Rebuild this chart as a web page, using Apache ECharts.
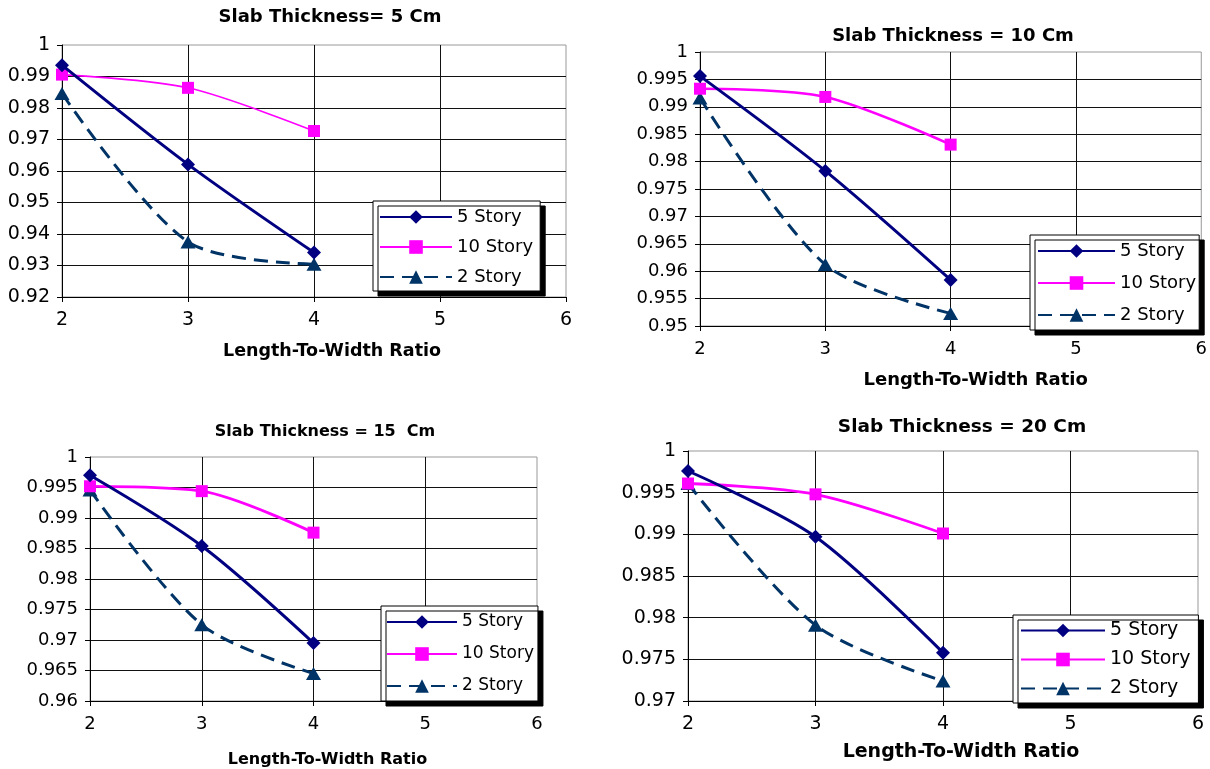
<!DOCTYPE html>
<html>
<head>
  <meta charset="utf-8">
  <title>Slab Thickness - Length-To-Width Ratio</title>
</head>
<body style="margin: 0; background: #fff">

  <div id="chart_div" style="width: 1210px; height: 769px;"></div>

  <script type="text/javascript" src="https://cdn.jsdelivr.net/npm/echarts@6/dist/echarts.min.js"></script>
  <script type="text/javascript">
    // x values and names
    var ratios = [2, 3, 4];
    var seriesNames = ['5 Story', '10 Story', '2 Story'];
    var titles = ['Slab Thickness= 5 Cm', 'Slab Thickness = 10 Cm', 'Slab Thickness = 15  Cm', 'Slab Thickness = 20 Cm'];
    var xName = 'Length-To-Width Ratio';

    // y axis ranges for each panel
    var yMin = [0.92, 0.95, 0.96, 0.97];
    var yStep = [0.01, 0.005, 0.005, 0.005];
    var xMin = 2, xMax = 6, xStep = 1;

    // slab 5 cm
    var slab5_story5 = [0.9936, 0.9621, 0.9341];
    var slab5_story10 = [0.9906, 0.9864, 0.9727];
    var slab5_story2 = [0.9846, 0.9375, 0.9304];
    // slab 10 cm
    var slab10_story5 = [0.9956, 0.9783, 0.9584];
    var slab10_story10 = [0.9933, 0.9918, 0.9831];
    var slab10_story2 = [0.9916, 0.9612, 0.9523];
    // slab 15 cm
    var slab15_story5 = [0.9970, 0.9854, 0.9695];
    var slab15_story10 = [0.9952, 0.9944, 0.9876];
    var slab15_story2 = [0.9946, 0.9725, 0.9645];
    // slab 20 cm
    var slab20_story5 = [0.9976, 0.9897, 0.9758];
    var slab20_story10 = [0.9961, 0.9948, 0.9901];
    var slab20_story2 = [0.9961, 0.9791, 0.9724];

    var panelData = [
      [slab5_story5, slab5_story10, slab5_story2],
      [slab10_story5, slab10_story10, slab10_story2],
      [slab15_story5, slab15_story10, slab15_story2],
      [slab20_story5, slab20_story10, slab20_story2]
    ];

    // layout (pixels)
    var grids = [
      {left: 62, top: 45, width: 504, height: 252},
      {left: 700, top: 52, width: 503, height: 274},
      {left: 90, top: 457, width: 447, height: 244},
      {left: 688, top: 451, width: 510, height: 250}
    ];
    var titlePos = [[330, 8], [953, 27], [325, 424], [962, 418]];
    var titleFont = [18, 18, 16, 18.5];
    var tickFont = [19, 18, 18, 19];
    var nameFont = [17.5, 18, 16, 19];
    var nameGap = [45, 45, 51, 42];
    var nameShift = [36, 50, 28, 36];
    var legendBox = [
      {left: 373, top: 201, gap: 12, pad: [7, 7, 5, 6], w: 72, font: 18},
      {left: 1030, top: 235, gap: 14, pad: [7, 3, 6, 7], w: 77, font: 18},
      {left: 381, top: 606, gap: 14, pad: [7, 4, 6, 5], w: 70, font: 17},
      {left: 1013, top: 615, gap: 10, pad: [6, 8, 5, 7], w: 84, font: 19}
    ];
    var pinkWidth = [1.6, 2.6, 2.8, 2.8];

    var FONT = 'DejaVu Sans';
    var styles = [
      {color: '#000080', width: 3, type: 'solid', symbol: 'diamond', size: [14, 14]},
      {color: '#ff00ff', width: 2.6, type: 'solid', symbol: 'rect', size: 12},
      {color: '#003366', width: 3, type: [14, 8], symbol: 'triangle', size: [15, 13]}
    ];

    var dom = document.getElementById('chart_div');
    var myChart = echarts.init(dom, null, {renderer: 'canvas'});

    var option = {
      backgroundColor: '#fff',
      animation: false,
      title: [],
      grid: [],
      xAxis: [],
      yAxis: [],
      legend: [],
      series: []
    };

    for (var i = 0; i < 4; i++) {
      option.title.push({
        text: titles[i],
        left: titlePos[i][0],
        top: titlePos[i][1],
        textAlign: 'center',
        padding: 0,
        textStyle: {fontFamily: FONT, fontSize: titleFont[i], fontWeight: 'bold', color: '#000'}
      });
      option.grid.push({
        left: grids[i].left, top: grids[i].top, width: grids[i].width, height: grids[i].height,
        show: true, borderColor: '#999', borderWidth: 1, backgroundColor: '#fff'
      });
      option.xAxis.push({
        gridIndex: i,
        type: 'value',
        min: xMin, max: xMax, interval: xStep,
        name: xName,
        nameLocation: 'middle',
        nameGap: nameGap[i],
        nameTextStyle: {fontFamily: FONT, fontSize: nameFont[i], fontWeight: 'bold', color: '#000', padding: [0, 0, 0, nameShift[i]]},
        axisLine: {lineStyle: {color: '#000', width: 1}},
        axisTick: {show: true, length: 5, lineStyle: {color: '#000'}},
        axisLabel: {fontFamily: FONT, fontSize: tickFont[i], color: '#000', margin: 14},
        splitLine: {show: true, showMaxLine: false, lineStyle: {color: '#111', width: 1}}
      });
      option.yAxis.push({
        gridIndex: i,
        type: 'value',
        min: yMin[i], max: 1, interval: yStep[i],
        axisLine: {show: true, lineStyle: {color: '#000', width: 1}},
        axisTick: {show: true, length: 5, lineStyle: {color: '#000'}},
        axisLabel: {
          fontFamily: FONT, fontSize: tickFont[i], color: '#000', margin: 12,
          formatter: function (v) { return String(+v.toFixed(3)); }
        },
        splitLine: {show: true, showMaxLine: false, lineStyle: {color: '#111', width: 1}}
      });
      var lb = legendBox[i];
      option.legend.push({
        data: seriesNames,
        orient: 'vertical',
        left: lb.left,
        top: lb.top,
        padding: lb.pad,
        itemGap: lb.gap,
        itemWidth: lb.w,
        itemHeight: 17,
        backgroundColor: '#fff',
        borderColor: '#000',
        borderWidth: 1,
        borderRadius: 0,
        shadowColor: '#000',
        shadowBlur: 0,
        shadowOffsetX: 5,
        shadowOffsetY: 5,
        textStyle: {fontFamily: FONT, fontSize: lb.font, color: '#000', lineHeight: 18}
      });
      for (var j = 0; j < 3; j++) {
        var st = styles[j];
        var vals = panelData[i][j];
        option.series.push({
          name: seriesNames[j],
          type: 'line',
          xAxisIndex: i,
          yAxisIndex: i,
          smooth: 0.3,
          symbol: st.symbol,
          symbolSize: st.size,
          data: ratios.map(function (x, k) { return [x, vals[k]]; }),
          lineStyle: {color: st.color, width: j === 1 ? pinkWidth[i] : st.width, type: st.type},
          itemStyle: {color: st.color},
          z: 3 + (2 - j)
        });
      }
    }

    myChart.setOption(option);
  </script>
</body>
</html>
